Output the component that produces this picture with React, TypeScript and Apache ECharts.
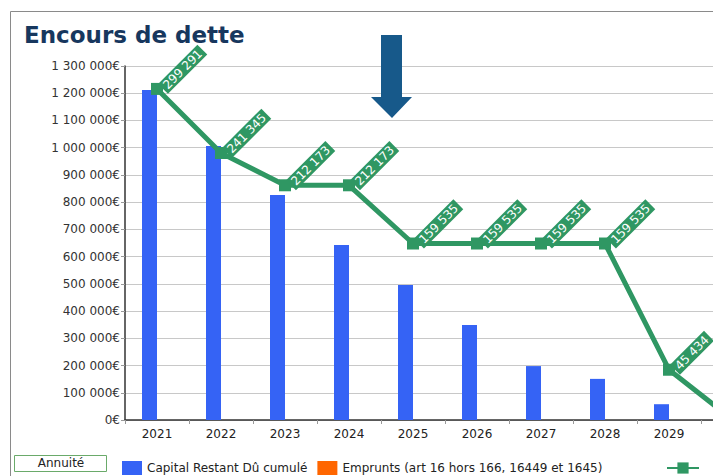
import React, { useEffect, useRef } from "react";
import * as echarts from "echarts";

const years = ["2021", "2022", "2023", "2024", "2025", "2026", "2027", "2028", "2029", "2030"];
const capitalRestantDu = [1212000, 1006000, 826000, 643000, 496000, 349000, 198000, 151000, 58000, 0];
const emprunts = [0, 0, 0, 0, 0, 0, 0, 0, 0, 0];
const annuite = [299291, 241345, 212173, 212173, 159535, 159535, 159535, 159535, 45434, 0];

const fmt = (n: number) => String(Math.round(n)).replace(/\B(?=(\d{3})+(?!\d))/g, " ");

const GREEN = "#2f9763";

export default function App() {
  const ref = useRef<HTMLDivElement>(null);
  useEffect(() => {
    if (!ref.current) return;
    const chart = echarts.init(ref.current, undefined, { renderer: "svg" });
    chart.setOption({
      animation: false,
      backgroundColor: "#ffffff",
      textStyle: { fontFamily: "DejaVu Sans" },
      title: {
        text: "Encours de dette",
        left: 19,
        top: 18,
        textStyle: { fontSize: 23, fontWeight: "bold", color: "#17375e", fontFamily: "DejaVu Sans" },
      },
      grid: { left: 125, top: 66, right: 5, bottom: 56 },
      legend: [
        {
          data: ["Capital Restant Dû cumulé", "Emprunts (art 16 hors 166, 16449 et 1645)"],
          left: 117,
          top: 456,
          itemWidth: 20,
          itemHeight: 14,
          itemGap: 10,
          icon: "rect",
          textStyle: { fontSize: 12, color: "#222", fontFamily: "DejaVu Sans" },
        },
        {
          data: ["Annuité"],
          left: 661,
          top: 456,
          itemWidth: 32,
          itemHeight: 14,
          formatter: () => "",
          textStyle: { fontSize: 12 },
        },
      ],
      xAxis: {
        type: "category",
        data: years,
        axisLine: { lineStyle: { color: "#333", width: 1.5 } },
        axisTick: { show: true, length: 4, lineStyle: { color: "#999" } },
        axisLabel: {
          fontSize: 12,
          color: "#222",
          margin: 8,
          formatter: (v: string) => (v === "2030" ? "" : v),
        },
      },
      yAxis: [
        {
          type: "value",
          min: 0,
          max: 1300000,
          interval: 100000,
          axisLine: { show: true, lineStyle: { color: "#333", width: 1.5 } },
          axisTick: { show: true, length: 4, lineStyle: { color: "#999" } },
          axisLabel: { fontSize: 12, color: "#333", margin: 5, formatter: (v: number) => fmt(v) + "€" },
          splitLine: { lineStyle: { color: "#c8c8c8", width: 1 } },
        },
        {
          type: "value",
          min: 0,
          max: 320000,
          show: false,
          splitLine: { show: false },
        },
      ],
      series: [
        {
          name: "Capital Restant Dû cumulé",
          type: "bar",
          data: capitalRestantDu,
          barWidth: 15,
          barGap: "0%",
          itemStyle: { color: "#3563f5" },
        },
        {
          name: "Emprunts (art 16 hors 166, 16449 et 1645)",
          type: "bar",
          data: emprunts,
          barWidth: 15,
          itemStyle: { color: "#ff6600" },
        },
        {
          name: "Annuité",
          type: "line",
          yAxisIndex: 1,
          data: annuite,
          symbol: "rect",
          symbolSize: 12,
          lineStyle: { color: GREEN, width: 5 },
          itemStyle: { color: GREEN },
          z: 5,
          label: {
            show: true,
            position: "right",
            distance: 0,
            rotate: 45,
            align: "left",
            verticalAlign: "middle",
            formatter: (p: any) => (p.value ? fmt(p.value) : ""),
            color: "#ffffff",
            fontSize: 12,
            backgroundColor: GREEN,
            padding: [1, 3, 1, 3],
          },
        },
      ],
      graphic: [
        {
          type: "rect",
          shape: { x: 10.5, y: 11.5, width: 900, height: 600 },
          style: { fill: "none", stroke: "#8a8a8a", lineWidth: 1 },
          silent: true,
          z: 0,
        },
        {
          type: "polygon",
          shape: {
            points: [
              [381, 35],
              [402, 35],
              [402, 97],
              [412, 97],
              [392, 118],
              [371, 97],
              [381, 97],
            ],
          },
          style: { fill: "#17598a" },
          z: 10,
        },
        {
          type: "rect",
          shape: { x: 14.5, y: 455.5, width: 92, height: 16 },
          style: { fill: "#ffffff", stroke: "#6aaa6a", lineWidth: 1 },
          z: 10,
        },
        {
          type: "text",
          x: 61,
          y: 463,
          style: {
            text: "Annuité",
            fontSize: 12,
            fontFamily: "DejaVu Sans",
            fill: "#222",
            align: "center",
            verticalAlign: "middle",
          },
          z: 11,
        },
      ],
    });
    return () => chart.dispose();
  }, []);
  return (
    <div style={{ position: "absolute", left: 0, top: 0, width: 713, height: 476, overflow: "hidden", background: "#fff" }}>
      <div ref={ref} style={{ width: 770, height: 476 }} />
    </div>
  );
}
